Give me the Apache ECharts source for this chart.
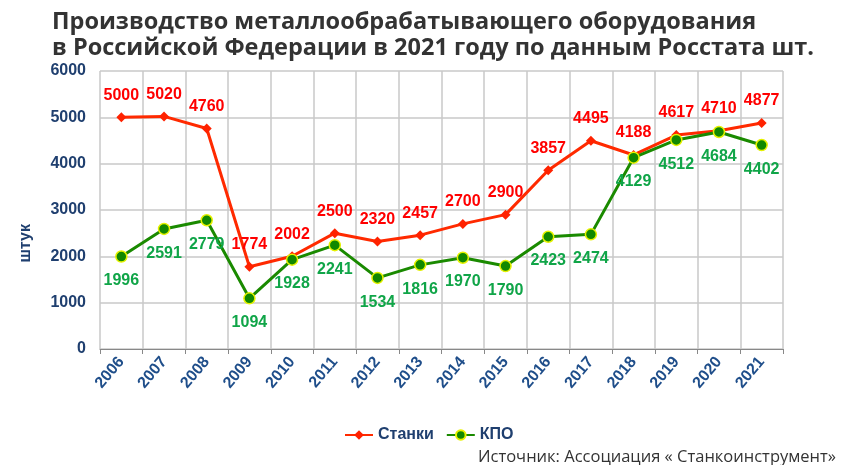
<!DOCTYPE html>
<html>
<head>
<meta charset="utf-8">
<script src="https://cdn.jsdelivr.net/npm/echarts@6/dist/echarts.min.js"></script>
<style>
  body { margin: 0; background: #fff; }
  #chart { width: 850px; height: 465px; }
</style>
</head>
<body>
<div id="chart"></div>
<script>
// годы
var years = ['2006', '2007', '2008', '2009', '2010', '2011', '2012', '2013',
    '2014', '2015', '2016', '2017', '2018', '2019', '2020', '2021'];
// Станки
var stanki = [5000, 5020, 4760, 1774, 2002, 2500, 2320, 2457, 2700, 2900, 3857, 4495, 4188, 4617, 4710, 4877];
// КПО
var kpo = [1996, 2591, 2779, 1094, 1928, 2241, 1534, 1816, 1970, 1790, 2423, 2474, 4129, 4512, 4684, 4402];

var myChart = echarts.init(document.getElementById('chart'));

var labelFont = {
    fontFamily: 'Liberation Sans',
    fontWeight: 'bold',
    fontSize: 16
};

var option = {
    animation: false,
    title: [{
        text: 'Производство металлообрабатывающего оборудования\nв Российской Федерации в 2021 году по данным Росстата шт.',
        left: 47,
        top: 4,
        textStyle: {
            fontFamily: 'Open Sans',
            fontWeight: 'bold',
            fontSize: 23.5,
            lineHeight: 26,
            color: '#333333'
        }
    }, {
        text: 'Источник: Ассоциация « Станкоинструмент»',
        right: 9,
        top: 444,
        textStyle: {
            fontFamily: 'Open Sans',
            fontWeight: 'normal',
            fontSize: 16.5,
            color: '#333333'
        }
    }],
    graphic: [{
        type: 'text',
        left: 18,
        top: 224,
        rotation: Math.PI / 2,
        style: {
            text: 'штук',
            fill: '#1f3f6f',
            font: 'bold 16px "Liberation Sans"'
        }
    }],
    legend: {
        data: ['Станки', 'КПО'],
        left: 339,
        top: 422,
        itemWidth: 28,
        itemHeight: 12,
        itemGap: 12,
        textStyle: {
            fontFamily: 'Liberation Sans',
            fontWeight: 'bold',
            fontSize: 16,
            color: '#1f3f6f'
        }
    },
    grid: {
        left: 100,
        right: 67,
        top: 71,
        bottom: 116
    },
    xAxis: {
        type: 'category',
        data: years,
        boundaryGap: true,
        axisLine: { lineStyle: { color: '#888888', width: 1 } },
        axisTick: { show: true, length: 5, lineStyle: { color: '#888888' } },
        splitLine: { show: true, interval: 0, lineStyle: { color: '#c8c8c8', width: 1.5 } },
        axisLabel: {
            interval: 0,
            rotate: 50,
            margin: 10,
            color: '#1f4e8a',
            fontFamily: 'Liberation Sans',
            fontWeight: 'bold',
            fontSize: 16
        }
    },
    yAxis: {
        type: 'value',
        min: 0,
        max: 6000,
        interval: 1000,
        axisLine: { show: false },
        axisTick: { show: false },
        splitLine: { lineStyle: { color: '#c8c8c8', width: 1.5 } },
        axisLabel: {
            formatter: function (v) { return String(v); },
            color: '#1f3f6f',
            fontFamily: 'Liberation Sans',
            fontWeight: 'bold',
            fontSize: 16,
            margin: 14
        }
    },
    series: [{
        name: 'Станки',
        type: 'line',
        data: stanki,
        symbol: 'diamond',
        symbolSize: 10,
        itemStyle: { color: '#ff2200' },
        lineStyle: { color: '#ff2a00', width: 3 },
        label: Object.assign({
            show: true,
            position: 'top',
            distance: 9,
            color: '#ff0000'
        }, labelFont),
        z: 2
    }, {
        name: 'КПО',
        type: 'line',
        data: kpo,
        symbol: 'circle',
        symbolSize: 11,
        itemStyle: { color: '#118800', borderColor: '#e6f200', borderWidth: 1.5 },
        lineStyle: { color: '#1a8a00', width: 3 },
        label: Object.assign({
            show: true,
            position: 'bottom',
            distance: 10,
            color: '#10a548'
        }, labelFont),
        z: 3
    }]
};

myChart.setOption(option);
</script>
</body>
</html>
